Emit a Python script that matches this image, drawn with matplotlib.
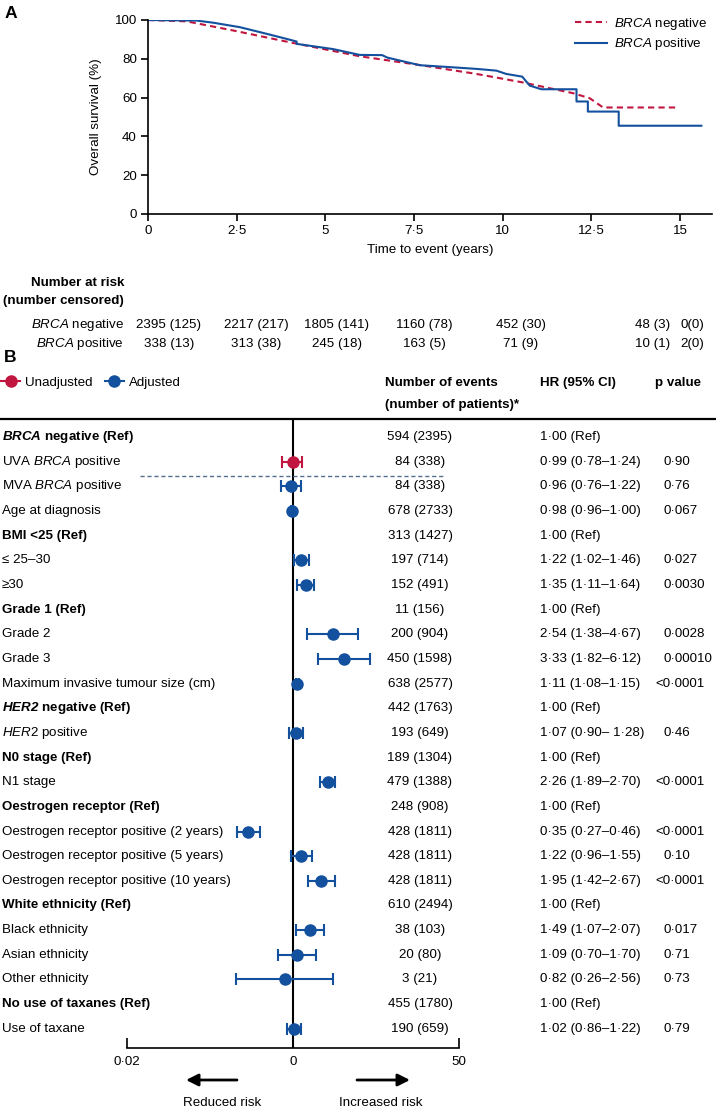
"""Overall survival by BRCA status (A) and multivariable Cox model forest plot (B)."""

import matplotlib
matplotlib.use("Agg")
import matplotlib.pyplot as plt
from matplotlib.lines import Line2D
from matplotlib.patches import FancyArrowPatch
from matplotlib.transforms import blended_transform_factory

FONT, FS = "Liberation Sans", 9.6
plt.rcParams["font.family"] = [FONT, "DejaVu Sans"]
plt.rcParams["mathtext.fontset"] = "custom"
plt.rcParams["mathtext.rm"] = FONT
plt.rcParams["mathtext.it"] = FONT + ":italic"
plt.rcParams["mathtext.bf"] = FONT + ":bold"
plt.rcParams["mathtext.bfit"] = FONT + ":italic:bold"

RED = "#c0163f"
BLUE = "#13509e"
W, H = 716, 1110

# ---- panel A data (years, % surviving) ----
neg_t = [0, 1.09, 2.4, 4.0, 5.97, 7.66, 9.26, 10.57, 11.23, 11.98, 12.45, 12.83, 14.97]
neg_s = [100, 99.3, 94.6, 88.5, 81.3, 76.8, 72.2, 67.8, 65.2, 62.3, 59.7, 54.9, 54.9]
pos_t = [0, 1.37, 1.84, 2.59, 3.34, 3.9, 4.19, 4.19, 5.22, 5.97, 6.6, 6.75, 7.66, 8.6,
         9.26, 9.82, 10.1, 10.55, 10.76, 11.09, 12.08, 12.08, 12.4, 12.4, 13.27, 13.27, 15.6]
pos_s = [100, 99.7, 98.6, 96.3, 92.9, 90.3, 88.9, 87.7, 85.0, 82.0, 81.9, 80.6, 76.7, 75.6,
         74.8, 73.9, 72.2, 70.8, 66.2, 64.3, 64.3, 58.0, 58.0, 52.8, 52.8, 45.5, 45.5]

risk_neg = ["2395 (125)", "2217 (217)", "1805 (141)", "1160 (78)", "452 (30)", "48 (3)", "0(0)"]
risk_pos = ["338 (13)", "313 (38)", "245 (18)", "163 (5)", "71 (9)", "10 (1)", "2(0)"]
risk_x = [169, 256, 337, 424, 521, 653, 692]  # pixel centres of the columns

# ---- panel B data ----
labels = [
    r"$\mathbfit{BRCA}$ negative (Ref)", r"UVA $\mathit{BRCA}$ positive", r"MVA $\mathit{BRCA}$ positive",
    "Age at diagnosis", "BMI <25 (Ref)", "≤ 25–30", "≥30", "Grade 1 (Ref)", "Grade 2", "Grade 3",
    "Maximum invasive tumour size (cm)", r"$\mathbfit{HER2}$ negative (Ref)", r"$\mathit{HER2}$ positive",
    "N0 stage (Ref)", "N1 stage", "Oestrogen receptor (Ref)", "Oestrogen receptor positive (2 years)",
    "Oestrogen receptor positive (5 years)", "Oestrogen receptor positive (10 years)",
    "White ethnicity (Ref)", "Black ethnicity", "Asian ethnicity", "Other ethnicity",
    "No use of taxanes (Ref)", "Use of taxane",
]
events = ["594 (2395)", "84 (338)", "84 (338)", "678 (2733)", "313 (1427)", "197 (714)", "152 (491)",
          "11 (156)", "200 (904)", "450 (1598)", "638 (2577)", "442 (1763)", "193 (649)", "189 (1304)",
          "479 (1388)", "248 (908)", "428 (1811)", "428 (1811)", "428 (1811)", "610 (2494)", "38 (103)",
          "20 (80)", "3 (21)", "455 (1780)", "190 (659)"]
hr_text = ["1·00 (Ref)", "0·99 (0·78–1·24)", "0·96 (0·76–1·22)", "0·98 (0·96–1·00)", "1·00 (Ref)",
           "1·22 (1·02–1·46)", "1·35 (1·11–1·64)", "1·00 (Ref)", "2·54 (1·38–4·67)", "3·33 (1·82–6·12)",
           "1·11 (1·08–1·15)", "1·00 (Ref)", "1·07 (0·90– 1·28)", "1·00 (Ref)", "2·26 (1·89–2·70)",
           "1·00 (Ref)", "0·35 (0·27–0·46)", "1·22 (0·96–1·55)", "1·95 (1·42–2·67)", "1·00 (Ref)",
           "1·49 (1·07–2·07)", "1·09 (0·70–1·70)", "0·82 (0·26–2·56)", "1·00 (Ref)", "1·02 (0·86–1·22)"]
p_text = ["", "0·90", "0·76", "0·067", "", "0·027", "0·0030", "", "0·0028", "0·00010", "<0·0001", "",
          "0·46", "", "<0·0001", "", "<0·0001", "0·10", "<0·0001", "", "0·017", "0·71", "0·73", "", "0·79"]
hr = [None, 0.99, 0.96, 0.98, None, 1.22, 1.35, None, 2.54, 3.33, 1.11, None, 1.07, None, 2.26,
      None, 0.35, 1.22, 1.95, None, 1.49, 1.09, 0.82, None, 1.02]
lo = [None, 0.78, 0.76, 0.96, None, 1.02, 1.11, None, 1.38, 1.82, 1.08, None, 0.90, None, 1.89,
      None, 0.27, 0.96, 1.42, None, 1.07, 0.70, 0.26, None, 0.86]
hi = [None, 1.24, 1.22, 1.00, None, 1.46, 1.64, None, 4.67, 6.12, 1.15, None, 1.28, None, 2.70,
      None, 0.46, 1.55, 2.67, None, 2.07, 1.70, 2.56, None, 1.22]
unadjusted = [1]


def fx(x):
    return x / W


def fy(y):
    return 1 - y / H


fig = plt.figure(figsize=(W / 100, H / 100), dpi=100)

# ---------------- A ----------------
ax = fig.add_axes([fx(148), fy(214), fx(712 - 148), (214 - 20) / H])
ax.plot(neg_t, neg_s, color=RED, lw=1.5, ls=(0, (3, 2)), label=r"$\mathit{BRCA}$ negative")
ax.plot(pos_t, pos_s, color=BLUE, lw=1.5, label=r"$\mathit{BRCA}$ positive")
ax.set_xlim(0, 15.9)
ax.set_ylim(0, 100)
ax.set_xticks([0, 2.5, 5, 7.5, 10, 12.5, 15])
ax.set_xticklabels(["0", "2·5", "5", "7·5", "10", "12·5", "15"])
ax.set_yticks([0, 20, 40, 60, 80, 100])
for s in ["top", "right"]:
    ax.spines[s].set_visible(False)
for s in ["left", "bottom"]:
    ax.spines[s].set_linewidth(1.2)
ax.tick_params(labelsize=FS, length=5, width=1.2, pad=3)
ax.set_xlabel("Time to event (years)", fontsize=FS, labelpad=5)
ax.set_ylabel("Overall survival (%)", fontsize=FS, labelpad=9)
ax.legend(loc="upper right", bbox_to_anchor=(1.0, 1.05), frameon=False, fontsize=FS,
          handlelength=2.4, handletextpad=0.5, borderaxespad=0, labelspacing=0.35)
fig.text(fx(5), fy(14), "A", fontsize=FS + 3, weight="bold", va="center")

fig.text(fx(124), fy(283), "Number at risk", fontsize=FS, weight="bold", ha="right", va="center")
fig.text(fx(124), fy(301), "(number censored)", fontsize=FS, weight="bold", ha="right", va="center")
fig.text(fx(124), fy(325), r"$\mathit{BRCA}$ negative", fontsize=FS, ha="right", va="center")
fig.text(fx(124), fy(344), r"$\mathit{BRCA}$ positive", fontsize=FS, ha="right", va="center")
for x, a, b in zip(risk_x, risk_neg, risk_pos):
    fig.text(fx(x), fy(325), a, fontsize=FS, ha="center", va="center")
    fig.text(fx(x), fy(344), b, fontsize=FS, ha="center", va="center")

# ---------------- B ----------------
fig.text(fx(4), fy(358), "B", fontsize=FS + 3, weight="bold", va="center")
handles = [Line2D([], [], color=RED, marker="o", ms=8, lw=1.5),
           Line2D([], [], color=BLUE, marker="o", ms=8, lw=1.5)]
fig.legend(handles, ["Unadjusted", "Adjusted"], loc="center left", bbox_to_anchor=(0, fy(383)),
           frameon=False, ncol=2, fontsize=FS, handlelength=1.4, handletextpad=0.4,
           columnspacing=0.9, borderaxespad=0, borderpad=0.1)
fig.text(fx(385), fy(383), "Number of events", fontsize=FS, weight="bold", va="center")
fig.text(fx(385), fy(405), "(number of patients)*", fontsize=FS, weight="bold", va="center")
fig.text(fx(540), fy(383), "HR (95% CI)", fontsize=FS, weight="bold", va="center")
fig.text(fx(655), fy(383), "p value", fontsize=FS, weight="bold", va="center")
fig.add_artist(Line2D([0, 1], [fy(419), fy(419)], color="black", lw=1.6))

n = len(labels)
bx = fig.add_axes([fx(127), fy(1048), fx(459 - 127), (1048 - 419) / H])
bx.set_xscale("log")
bx.set_xlim(0.02, 50)
bx.set_ylim(n - 1 + 0.78, -0.73)
bx.axvline(1, color="black", lw=1.5, zorder=1)
for i in range(n):
    if hr[i] is None:
        continue
    c = RED if i in unadjusted else BLUE
    bx.errorbar(hr[i], i, xerr=[[hr[i] - lo[i]], [hi[i] - hr[i]]], fmt="o", color=c, ms=8,
                elinewidth=1.5, capsize=4, capthick=1.5, zorder=3)
bx.set_xticks([0.02, 1, 50])
bx.set_xticklabels(["0·02", "0", "50"])
bx.minorticks_off()
bx.set_yticks([])
for s in ["top", "right", "left"]:
    bx.spines[s].set_visible(False)
bx.spines["bottom"].set_linewidth(1.2)
bx.tick_params(axis="x", direction="in", length=7, width=1.2, labelsize=FS, pad=6)

tr = blended_transform_factory(fig.transFigure, bx.transData)
for i in range(n):
    bold = "(Ref)" in labels[i]
    fig.text(fx(2), i, labels[i], transform=tr, fontsize=FS, va="center",
             weight="bold" if bold else "normal")
    fig.text(fx(420), i, events[i], transform=tr, fontsize=FS, va="center", ha="center")
    fig.text(fx(540), i, hr_text[i], transform=tr, fontsize=FS, va="center")
    px = 655 if p_text[i].startswith("<") else 664
    fig.text(fx(px), i, p_text[i], transform=tr, fontsize=FS, va="center")

# dashed separator between unadjusted and adjusted BRCA rows
bx.plot([fx(140), fx(445)], [1.6, 1.6], transform=tr, color="#52708c", lw=1,
        ls=(0, (3, 2)), clip_on=False)

# risk arrows
arrow = dict(arrowstyle="-|>", lw=2, color="black", mutation_scale=18, shrinkA=0, shrinkB=0)
fig.add_artist(FancyArrowPatch((fx(237), fy(1080)), (fx(186), fy(1080)),
                               transform=fig.transFigure, **arrow))
fig.add_artist(FancyArrowPatch((fx(357), fy(1080)), (fx(410), fy(1080)),
                               transform=fig.transFigure, **arrow))
fig.text(fx(222), fy(1103), "Reduced risk", fontsize=FS, ha="center", va="center")
fig.text(fx(381), fy(1103), "Increased risk", fontsize=FS, ha="center", va="center")

fig.savefig("out.png", dpi=100)
